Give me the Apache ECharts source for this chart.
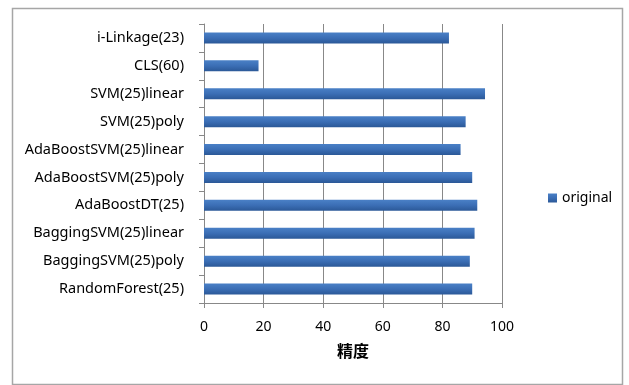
<!DOCTYPE html>
<html><head><meta charset="utf-8">
<script src="https://cdn.jsdelivr.net/npm/echarts@6/dist/echarts.min.js"></script>
<style>html,body{margin:0;padding:0;background:#fff}#c{width:629px;height:385px}</style>
</head><body><div id="c"></div>
<script>
const categories = ["RandomForest(25)","BaggingSVM(25)poly","BaggingSVM(25)linear","AdaBoostDT(25)","AdaBoostSVM(25)poly","AdaBoostSVM(25)linear","SVM(25)poly","SVM(25)linear","CLS(60)","i-Linkage(23)"];
const values = [90.0, 89.2, 90.8, 91.7, 90.0, 86.1, 87.8, 94.3, 18.3, 82.2];
const seriesName = "original";
const axisName = "精度";
const xTicks = [0, 20, 40, 60, 80, 100];

const chart = echarts.init(document.getElementById('c'));
chart.setOption({
  animation: false,
  graphic: [{type:'rect', left:10, top:6, shape:{width:610, height:376}, style:{fill:'none', stroke:'#a6a6a6', lineWidth:1.5}, silent:true}],
  grid: {left:204, right:127, top:24, bottom:82},
  legend: {data:[seriesName], left:543, top:186, itemWidth:9, itemHeight:9, itemGap:4,
    textStyle:{fontFamily:'Noto Sans', fontSize:14, color:'#000', padding:[0,0,0,0]}, icon:'rect'},
  xAxis: {type:'value', min:xTicks[0], max:xTicks[xTicks.length-1], interval:20,
    name:axisName, nameLocation:'middle', nameGap:40,
    nameTextStyle:{fontFamily:'Noto Sans CJK SC', fontWeight:'bold', fontSize:16, color:'#000'},
    axisLine:{show:true, lineStyle:{color:'#888'}},
    axisTick:{show:true, length:5, lineStyle:{color:'#888'}},
    axisLabel:{fontFamily:'Noto Sans', fontSize:14, color:'#000', margin:17},
    splitLine:{show:true, lineStyle:{color:'#888', width:1}}},
  yAxis: {type:'category', data:categories,
    axisLine:{show:true, lineStyle:{color:'#888'}},
    axisTick:{show:true, length:5, lineStyle:{color:'#888'}},
    axisLabel:{fontFamily:'Noto Sans', fontSize:14.5, color:'#000', margin:20},
    splitLine:{show:false}},
  series: [{name:seriesName, type:'bar', data:values, barWidth:11,
    itemStyle:{color:new echarts.graphic.LinearGradient(0,0,0,1,[
      {offset:0, color:'#4a80c6'},{offset:0.5, color:'#3b6eb5'},{offset:1, color:'#2b5897'}])}}]
});
</script></body></html>
